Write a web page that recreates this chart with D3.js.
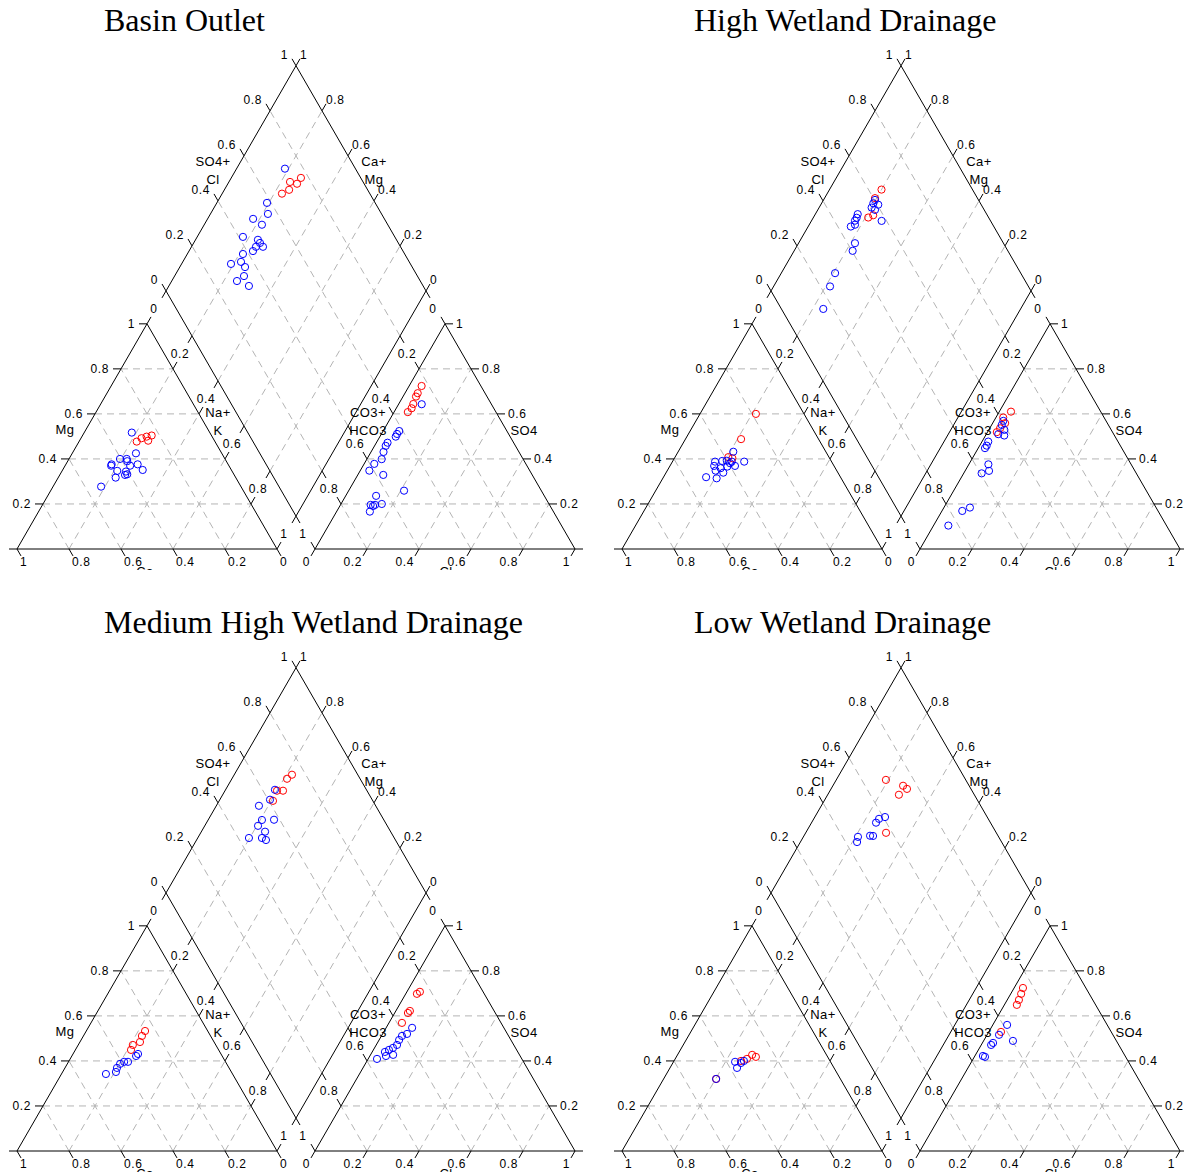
<!DOCTYPE html>
<html>
<head>
<meta charset="utf-8">
<script src="https://cdn.jsdelivr.net/npm/d3@7"></script>
<style>
  body { margin: 0; background: #fff; }
  svg { display: block; }
</style>
</head>
<body>
<svg id="chart" width="1184" height="1172"></svg>
<script>
// ---------------- data ----------------
const panelTitles = ["Basin Outlet", "High Wetland Drainage", "Medium High Wetland Drainage", "Low Wetland Drainage"];
const tickValues = [0, 0.2, 0.4, 0.6, 0.8, 1];
const tickLabels = ["0", "0.2", "0.4", "0.6", "0.8", "1"];
const gridValues = [0.2, 0.4, 0.6, 0.8];
const seriesColors = { red: "#ff0000", blue: "#0000ff" };

// Cation fractions: [Ca, Mg]  (Na+K = 1 - Ca - Mg)
// Anion fractions:  [Cl, SO4] (CO3+HCO3 = 1 - Cl - SO4)
// Diamond:          [Ca+Mg, SO4+Cl]

// Basin Outlet
const basinCatRed  = [[0.301,0.477],[0.275,0.492],[0.252,0.499],[0.230,0.504],[0.255,0.481]];
const basinCatBlue = [[0.300,0.517],[0.330,0.425],[0.404,0.400],[0.378,0.400],[0.381,0.390],[0.448,0.376],[0.453,0.370],[0.380,0.370],[0.348,0.376],[0.441,0.347],[0.409,0.344],[0.410,0.332],[0.420,0.329],[0.341,0.351],[0.462,0.317],[0.538,0.277]];
const basinAnRed   = [[0.048,0.724],[0.049,0.692],[0.050,0.677],[0.056,0.644],[0.059,0.625],[0.053,0.608]];
const basinAnBlue  = [[0.089,0.643],[0.062,0.524],[0.060,0.511],[0.061,0.499],[0.043,0.472],[0.043,0.458],[0.048,0.431],[0.057,0.399],[0.039,0.378],[0.035,0.348],[0.098,0.329],[0.213,0.259],[0.117,0.236],[0.157,0.200],[0.133,0.196],[0.116,0.196],[0.128,0.191],[0.128,0.166]];
const basinDiaRed  = [[0.732,0.770],[0.734,0.742],[0.765,0.719],[0.751,0.698],[0.770,0.662]];
const basinDiaBlue = [[0.814,0.729],[0.807,0.584],[0.779,0.563],[0.825,0.495],[0.778,0.516],[0.824,0.416],[0.760,0.467],[0.745,0.468],[0.725,0.471],[0.752,0.444],[0.754,0.423],[0.786,0.378],[0.810,0.310],[0.776,0.353],[0.749,0.357],[0.733,0.333],[0.749,0.295],[0.692,0.330]];

// High Wetland Drainage
const highCatRed   = [[0.185,0.600],[0.298,0.488],[0.387,0.408],[0.374,0.403]];
const highCatBlue  = [[0.356,0.432],[0.336,0.388],[0.448,0.388],[0.419,0.391],[0.401,0.392],[0.394,0.381],[0.381,0.369],[0.412,0.366],[0.461,0.369],[0.441,0.359],[0.466,0.348],[0.441,0.339],[0.517,0.319],[0.479,0.314],[0.384,0.388]];
const highAnRed    = [[0.045,0.610],[0.028,0.584],[0.048,0.559],[0.040,0.536],[0.036,0.519]];
const highAnBlue   = [[0.036,0.569],[0.039,0.551],[0.060,0.529],[0.072,0.504],[0.046,0.510],[0.024,0.477],[0.027,0.459],[0.026,0.448],[0.075,0.376],[0.092,0.347],[0.069,0.336],[0.100,0.184],[0.078,0.169],[0.057,0.104]];
const highDiaRed   = [[0.800,0.650],[0.806,0.606],[0.775,0.561],[0.789,0.537]];
const highDiaBlue  = [[0.802,0.602],[0.801,0.588],[0.779,0.604],[0.798,0.572],[0.780,0.580],[0.730,0.581],[0.837,0.504],[0.833,0.492],[0.833,0.479],[0.836,0.450],[0.824,0.470],[0.783,0.429],[0.775,0.403],[0.793,0.286],[0.783,0.237],[0.759,0.161]];

// Medium High Wetland Drainage
const medCatRed    = [[0.241,0.533],[0.264,0.511],[0.285,0.484],[0.319,0.471],[0.337,0.449]];
const medCatBlue   = [[0.319,0.431],[0.331,0.422],[0.375,0.396],[0.390,0.396],[0.410,0.387],[0.431,0.369],[0.487,0.342],[0.444,0.351]];
const medAnRed     = [[0.050,0.707],[0.043,0.698],[0.054,0.622],[0.051,0.613],[0.050,0.569]];
const medAnBlue    = [[0.100,0.547],[0.094,0.520],[0.079,0.511],[0.077,0.493],[0.080,0.471],[0.071,0.458],[0.060,0.449],[0.049,0.440],[0.062,0.422],[0.087,0.427],[0.034,0.409]];
const medDiaRed    = [[0.778,0.747],[0.788,0.719],[0.777,0.677],[0.800,0.654],[0.793,0.616]];
const medDiaBlue   = [[0.810,0.648],[0.807,0.607],[0.836,0.551],[0.747,0.578],[0.793,0.531],[0.795,0.503],[0.755,0.517],[0.803,0.441],[0.753,0.491],[0.733,0.502]];

// Low Wetland Drainage
const lowCatRed    = [[0.478,0.320],[0.342,0.400],[0.315,0.409],[0.286,0.427],[0.276,0.418]];
const lowCatBlue   = [[0.478,0.320],[0.367,0.396],[0.347,0.391],[0.373,0.369],[0.331,0.400]];
const lowAnRed     = [[0.034,0.724],[0.040,0.698],[0.045,0.671],[0.048,0.649],[0.047,0.529]];
const lowAnBlue    = [[0.055,0.560],[0.046,0.516],[0.041,0.480],[0.038,0.471],[0.031,0.422],[0.041,0.418],[0.113,0.489]];
const lowDiaRed    = [[0.809,0.693],[0.730,0.746],[0.708,0.754],[0.726,0.710],[0.691,0.576]];
const lowDiaBlue   = [[0.730,0.607],[0.749,0.580],[0.752,0.560],[0.746,0.508],[0.734,0.519],[0.790,0.459],[0.782,0.444]];

const panels = [
  { title: panelTitles[0], ox: 0,   oy: 0,   tx: 104, cat: [basinCatRed, basinCatBlue], an: [basinAnRed, basinAnBlue], dia: [basinDiaRed, basinDiaBlue] },
  { title: panelTitles[1], ox: 605, oy: 0,   tx: 89,  cat: [highCatRed, highCatBlue],   an: [highAnRed, highAnBlue],   dia: [highDiaRed, highDiaBlue] },
  { title: panelTitles[2], ox: 0,   oy: 602, tx: 104, cat: [medCatRed, medCatBlue],     an: [medAnRed, medAnBlue],     dia: [medDiaRed, medDiaBlue] },
  { title: panelTitles[3], ox: 605, oy: 602, tx: 89,  cat: [lowCatRed, lowCatBlue],     an: [lowAnRed, lowAnBlue],     dia: [lowDiaRed, lowDiaBlue] }
];

// ---------------- geometry ----------------
const SQ = Math.sqrt(3) / 2;
const len = d3.scaleLinear().domain([0, 1]).range([0, 260]);   // side length of each triangle
const X0 = 17, Y0 = 549, GAP = 38, TICK = 8;
const catV = { a: [X0, Y0], t: [X0 + len(0.5), Y0 - len(1) * SQ], b: [X0 + len(1), Y0] };          // Ca, Mg, Na+K
const anX0 = X0 + len(1) + GAP;
const anV  = { a: [anX0, Y0], t: [anX0 + len(0.5), Y0 - len(1) * SQ], b: [anX0 + len(1), Y0] };    // CO3+HCO3, SO4, Cl
const dB = [X0 + len(1) + GAP / 2, Y0 - GAP * SQ];                                                    // lower apex of the diamond

function bary(V, a, t, b) {
  return [a * V.a[0] + t * V.t[0] + b * V.b[0], a * V.a[1] + t * V.t[1] + b * V.b[1]];
}
function dia(u, w) {   // u = Ca+Mg, w = SO4+Cl
  return [dB[0] + (len(w) - len(u)) / 2, dB[1] - (len(u) + len(w)) * SQ];
}
const catXY = d => bary(catV, d[0], d[1], 1 - d[0] - d[1]);
const anXY  = d => bary(anV, 1 - d[0] - d[1], d[1], d[0]);
const diaXY = d => dia(d[0], d[1]);

const dir = { dl: [-0.5, SQ], dr: [0.5, SQ], ul: [-0.5, -SQ], ur: [0.5, -SQ], l: [-1, 0], r: [1, 0] };
const axes = [
  { pt: v => bary(catV, v, 0, 1 - v), d: dir.dr, anchor: "start",  lx: 3,   ly: 17, show: v => true },   // Ca
  { pt: v => bary(catV, 1 - v, v, 0), d: dir.l,  anchor: "end",    lx: -12, ly: 4,  show: v => v > 0 },  // Mg
  { pt: v => bary(catV, 0, 1 - v, v), d: dir.ur, anchor: "middle", lx: 7,   ly: -11, show: v => true },  // Na+K
  { pt: v => bary(anV, 1 - v, 0, v),  d: dir.dl, anchor: "end",    lx: -5,  ly: 17, show: v => true },   // Cl
  { pt: v => bary(anV, 0, v, 1 - v),  d: dir.r,  anchor: "start",  lx: 11,  ly: 4,  show: v => v > 0 },  // SO4
  { pt: v => bary(anV, v, 1 - v, 0),  d: dir.ul, anchor: "middle", lx: -12, ly: -11, show: v => true },  // CO3+HCO3
  { pt: v => dia(1, v), d: dir.ul, anchor: "end",   lx: -8, ly: -7, show: v => true },                     // SO4+Cl
  { pt: v => dia(v, 1), d: dir.ur, anchor: "start", lx: 4,  ly: -7, show: v => true },                     // Ca+Mg
  { pt: v => dia(v, 0), d: dir.dl, show: v => false },
  { pt: v => dia(0, v), d: dir.dr, show: v => false }
];

const grid = [];
gridValues.forEach(v => {
  grid.push([bary(catV, 1 - v, v, 0), bary(catV, 0, v, 1 - v)]);
  grid.push([bary(catV, v, 0, 1 - v), bary(catV, v, 1 - v, 0)]);
  grid.push([bary(catV, 1 - v, 0, v), bary(catV, 0, 1 - v, v)]);
  grid.push([bary(anV, 1 - v, v, 0), bary(anV, 0, v, 1 - v)]);
  grid.push([bary(anV, v, 0, 1 - v), bary(anV, v, 1 - v, 0)]);
  grid.push([bary(anV, 1 - v, 0, v), bary(anV, 0, 1 - v, v)]);
  grid.push([dia(v, 0), dia(v, 1)]);
  grid.push([dia(0, v), dia(1, v)]);
});

const axisTitles = [
  { lines: ["Mg"], x: 65, y: 434 },
  { lines: ["Na+", "K"], x: 218, y: 417 },
  { lines: ["CO3+", "HCO3"], x: 368, y: 417 },
  { lines: ["SO4"], x: 524, y: 435 },
  { lines: ["SO4+", "Cl"], x: 213, y: 166 },
  { lines: ["Ca+", "Mg"], x: 374, y: 166 },
  { lines: ["Ca"], x: 145, y: 576 },
  { lines: ["Cl"], x: 446, y: 576 }
];

// ---------------- drawing ----------------
const svg = d3.select("#chart");
const labelFont = "'Liberation Sans', Arial, sans-serif";

svg.append("defs").append("clipPath").attr("id", "panelClip")
  .append("rect").attr("x", -5).attr("y", 0).attr("width", 600).attr("height", 570);

panels.forEach(p => {
  const g = svg.append("g").attr("transform", `translate(${p.ox},${p.oy})`);

  g.append("text").attr("x", p.tx).attr("y", 31)
    .attr("font-family", "'Liberation Serif', 'Times New Roman', serif")
    .attr("font-size", 32).attr("fill", "#000").text(p.title);

  const body = g.append("g").attr("clip-path", "url(#panelClip)");

  body.append("g").selectAll("line").data(grid).join("line")
    .attr("x1", d => d[0][0]).attr("y1", d => d[0][1])
    .attr("x2", d => d[1][0]).attr("y2", d => d[1][1])
    .attr("stroke", "#b4b4b4").attr("stroke-width", 1).attr("stroke-dasharray", "7,5");

  axes.forEach(ax => {
    const a = ax.pt(0), b = ax.pt(1);
    body.append("line").attr("x1", a[0]).attr("y1", a[1]).attr("x2", b[0]).attr("y2", b[1])
      .attr("stroke", "#000").attr("stroke-width", 1);
    tickValues.forEach((v, i) => {
      const q = ax.pt(v);
      body.append("line").attr("x1", q[0]).attr("y1", q[1])
        .attr("x2", q[0] + ax.d[0] * TICK).attr("y2", q[1] + ax.d[1] * TICK)
        .attr("stroke", "#000").attr("stroke-width", 1);
      if (ax.show(v)) {
        body.append("text").attr("x", q[0] + ax.lx).attr("y", q[1] + ax.ly)
          .attr("text-anchor", ax.anchor).attr("font-family", labelFont)
          .attr("font-size", 12).attr("letter-spacing", 0.6).attr("fill", "#000").text(tickLabels[i]);
      }
    });
  });

  axisTitles.forEach(t => {
    t.lines.forEach((s, k) => {
      body.append("text").attr("x", t.x).attr("y", t.y + k * 18)
        .attr("text-anchor", "middle").attr("font-family", labelFont)
        .attr("font-size", 13).attr("letter-spacing", 0.4).attr("fill", "#000").text(s);
    });
  });

  const plotSets = [[p.cat, catXY], [p.an, anXY], [p.dia, diaXY]];
  plotSets.forEach(([sets, proj]) => {
    [["red", sets[0]], ["blue", sets[1]]].forEach(([c, arr]) => {
      body.append("g").selectAll("circle").data(arr).join("circle")
        .attr("cx", d => proj(d)[0]).attr("cy", d => proj(d)[1]).attr("r", 3.6)
        .attr("fill", "none").attr("stroke", seriesColors[c]).attr("stroke-width", 1);
    });
  });
});
</script>
</body>
</html>
